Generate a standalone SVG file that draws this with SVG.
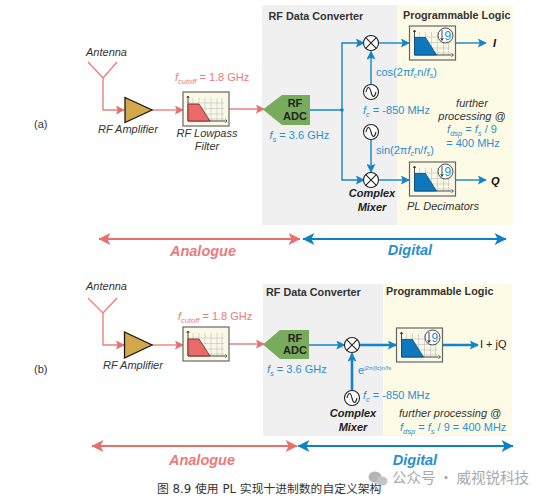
<svg xmlns="http://www.w3.org/2000/svg" width="548" height="500" viewBox="0 0 548 500">
<style>
text{font-family:"Liberation Sans",Arial,sans-serif;font-size:11px;fill:#333}
.i{font-style:italic}
.hd{font-weight:bold;font-size:10.800px;fill:#333}
.b{fill:#2a8fd0}
.r{fill:#ea7b7b}
.bi{font-weight:bold;font-style:italic;fill:#222}
.big{font-weight:bold;font-style:italic;font-size:14.5px}
.sub{font-size:7.5px}
.adc{font-weight:bold;font-size:11px;fill:#222;text-anchor:middle}
.m{text-anchor:middle}
.lr{fill:none;stroke:#ec8080;stroke-width:1.4}
.lb{fill:none;stroke:#1484c8;stroke-width:1.4}
.lbt{fill:none;stroke:#1484c8;stroke-width:2.6}
.ar{fill:none;stroke:#e86f6c;stroke-width:2.2}
.ab{fill:none;stroke:#0f80c6;stroke-width:2.2}
.amp{fill:#d3a84a;stroke:#1a1a1a;stroke-width:1.3}
.adcs{fill:#79ab5d}
.box{fill:#fbf9e6;stroke:#666;stroke-width:1.2}
.grid{stroke:#c4c4c4;stroke-width:.7}
.axis{stroke:#333;stroke-width:.9;fill:none}
.trr{fill:#e96a68;stroke:#5a2a2a;stroke-width:.8}
.trb{fill:#0c78bd;stroke:#0b4a72;stroke-width:.8}
.mix{fill:#fff;stroke:#222;stroke-width:1.1}
.xx{stroke:#222;stroke-width:1.1;fill:none}
.wm{fill:#a9a9a9;font-size:14.5px;font-family:"Noto Sans CJK SC","Liberation Sans",sans-serif}
.cap{fill:#333;font-size:11.8px;font-family:"DejaVu Sans","Noto Sans CJK SC",sans-serif}
</style>
<defs>
<marker id="hr" viewBox="0 0 10 10" refX="9" refY="5" markerWidth="9" markerHeight="9" markerUnits="userSpaceOnUse" orient="auto"><path d="M0 0L10 5L0 10L2 5Z" fill="#e86f6c"/></marker>
<marker id="hb" viewBox="0 0 10 10" refX="9" refY="5" markerWidth="9" markerHeight="9" markerUnits="userSpaceOnUse" orient="auto"><path d="M0 0L10 5L0 10L2 5Z" fill="#1484c8"/></marker>
<marker id="hR" viewBox="0 0 10 10" refX="9.5" refY="5" markerWidth="16" markerHeight="12" markerUnits="userSpaceOnUse" orient="auto-start-reverse"><path d="M0 0L10 5L0 10L2.5 5Z" fill="#e86f6c"/></marker>
<marker id="hB" viewBox="0 0 10 10" refX="9.5" refY="5" markerWidth="16" markerHeight="12" markerUnits="userSpaceOnUse" orient="auto-start-reverse"><path d="M0 0L10 5L0 10L2.5 5Z" fill="#0f80c6"/></marker>
<g id="gridbox">
<rect class="box" x="0" y="0" width="46" height="34"/>
<path class="grid" d="M5 11H41M5 16.500H41M5 22H41M5 27H41M10 6V29M16 6V29M22 6V29M28 6V29M34 6V29M39 6V29"/>
<path class="axis" d="M5 4V29H42M42 27.500L44 29L42 30.500M3.800 6L5 4L6.200 6"/>
</g>
<g id="fr"><use href="#gridbox"/><path class="trr" d="M5 12H16L27 29H5Z"/></g>
<g id="fb"><use href="#gridbox"/><path class="trb" d="M5 11.500H16L27 29H5Z"/><circle cx="36" cy="9.500" r="7.500" fill="#fff" stroke="#333" stroke-width=".9"/><path d="M32.500 4V14M31.200 12L32.500 14.500L33.800 12" fill="none" stroke="#333" stroke-width=".9"/><text x="35" y="14" style="font-size:12px;fill:#2a8fd0">9</text></g>
<g id="mx"><circle class="mix" r="7.500"/><path class="xx" d="M-5.300-5.300L5.300 5.300M-5.300 5.300L5.300-5.300"/></g>
<g id="os"><circle class="mix" r="7.500"/><path class="xx" d="M-5 0C-3.500-6-1.500-6 0 0S3.500 6 5 0"/></g>
</defs>

<g id="panels">
<rect x="262" y="5" width="135" height="220" fill="#f0f0f0"/>
<rect x="397" y="5" width="116" height="220" fill="#fdfbe6"/>
<rect x="263" y="284" width="120" height="152" fill="#f0f0f0"/>
<rect x="383" y="284" width="129" height="152" fill="#fdfbe6"/>
</g>

<g id="connectors">
<path class="lr" d="M88 62L103 78L117 62M103 78V110H124" marker-end="url(#hr)"/>
<path class="lr" d="M152 110H183" marker-end="url(#hr)"/>
<path class="lr" d="M229 109H264" marker-end="url(#hr)"/>
<path class="lb" d="M310 110H342V43H364" marker-end="url(#hb)"/>
<path class="lb" d="M342 110V180H364" marker-end="url(#hb)"/>
<circle cx="342" cy="110" r="1.800" fill="#1484c8"/>
<path class="lb" d="M371 84V51.500" marker-end="url(#hb)"/>
<path class="lb" d="M371 140V172" marker-end="url(#hb)"/>
<path class="lb" d="M379 43H409" marker-end="url(#hb)"/>
<path class="lb" d="M379 180H409" marker-end="url(#hb)"/>
<path class="lb" d="M456 43H486" marker-end="url(#hb)"/>
<path class="lb" d="M456 180H486" marker-end="url(#hb)"/>
<path class="ar" d="M99 239H300" marker-start="url(#hR)" marker-end="url(#hR)"/>
<path class="ab" d="M303 239H506" marker-start="url(#hB)" marker-end="url(#hB)"/>

<path class="lr" d="M88 298L103 313L117 298M103 313V345H124" marker-end="url(#hr)"/>
<path class="lr" d="M152 345H183" marker-end="url(#hr)"/>
<path class="lr" d="M229 344H264" marker-end="url(#hr)"/>
<path class="lb" d="M309 345H344.500" marker-end="url(#hb)"/>
<path class="lbt" d="M352 390V353.500" marker-end="url(#hb)"/>
<path class="lbt" d="M360 345H396" marker-end="url(#hb)"/>
<path class="lbt" d="M443 345H478" marker-end="url(#hb)"/>
<path class="ar" d="M92 446H297" marker-start="url(#hR)" marker-end="url(#hR)"/>
<path class="ab" d="M298 446H513" marker-start="url(#hB)" marker-end="url(#hB)"/>
</g>

<g id="a-panel-labels">
<text x="34" y="128">(a)</text>
<text class="hd" x="268.500" y="20">RF Data Converter</text>
<text class="hd" x="403" y="19">Programmable Logic</text>
</g>
<g id="a-antenna"><text class="i" x="86" y="56">Antenna</text></g>
<g id="a-amp"><path class="amp" d="M125 97.500V122.500L152 110Z"/><text class="i" x="98" y="133">RF Amplifier</text></g>
<g id="a-filter"><use href="#fr" x="183" y="92"/>
<text class="r" x="175" y="81"><tspan class="i">f</tspan><tspan class="sub i" dy="2.500">cutoff</tspan><tspan dy="-2.500"> = 1.8 GHz</tspan></text>
<text class="i m" x="207" y="137">RF Lowpass</text><text class="i m" x="207" y="150">Filter</text></g>
<g id="a-adc"><path class="adcs" d="M263 109.500L282 95H310V125H282Z"/>
<text class="adc" x="295" y="107">RF</text><text class="adc" x="295" y="120">ADC</text>
<text class="b" x="269.500" y="139"><tspan class="i">f</tspan><tspan class="sub i" dy="2.500">s</tspan><tspan dy="-2.500"> = 3.6 GHz</tspan></text></g>
<g id="a-mixer-i"><use href="#mx" x="371" y="43"/></g>
<g id="a-osc-i"><use href="#os" x="371" y="92"/>
<text class="b" x="376" y="76">cos(2π<tspan class="i">f</tspan><tspan class="sub i" dy="2">c</tspan><tspan dy="-2">n/</tspan><tspan class="i">f</tspan><tspan class="sub i" dy="2">s</tspan><tspan dy="-2">)</tspan></text></g>
<g id="a-fc"><text class="b" x="363" y="114"><tspan class="i">f</tspan><tspan class="sub i" dy="2.500">c</tspan><tspan dy="-2.500"> = -850 MHz</tspan></text></g>
<g id="a-osc-q"><use href="#os" x="371" y="132"/>
<text class="b" x="376" y="154">sin(2π<tspan class="i">f</tspan><tspan class="sub i" dy="2">c</tspan><tspan dy="-2">n/</tspan><tspan class="i">f</tspan><tspan class="sub i" dy="2">s</tspan><tspan dy="-2">)</tspan></text></g>
<g id="a-mixer-q"><use href="#mx" x="371" y="180"/>
<text class="bi m" x="372" y="197">Complex</text><text class="bi m" x="372" y="211">Mixer</text></g>
<g id="a-dec-i"><use href="#fb" x="409.500" y="26"/><text x="493" y="47" style="font-weight:bold;font-style:italic;fill:#111">I</text></g>
<g id="a-dec-q"><use href="#fb" x="409.500" y="162"/><text x="491" y="184.500" style="font-weight:bold;font-style:italic;fill:#111">Q</text>
<text class="i" x="407" y="210">PL Decimators</text></g>
<g id="a-processing">
<text class="i m" x="472" y="107">further</text><text class="i m" x="472" y="120">processing @</text>
<text class="b m" x="472" y="133"><tspan class="i">f</tspan><tspan class="sub i" dy="2.500">dsp</tspan><tspan dy="-2.500"> = </tspan><tspan class="i">f</tspan><tspan class="sub i" dy="2.500">s</tspan><tspan dy="-2.500"> / 9</tspan></text>
<text class="b m" x="473" y="147">= 400 MHz</text></g>
<g id="a-domains"><text class="big r m" x="203" y="256">Analogue</text><text class="big b m" x="410" y="255">Digital</text></g>

<g id="b-panel-labels">
<text x="34" y="373">(b)</text>
<text class="hd" x="266" y="296">RF Data Converter</text>
<text class="hd" x="386" y="295">Programmable Logic</text>
</g>
<g id="b-antenna"><text class="i" x="86" y="290">Antenna</text></g>
<g id="b-amp"><path class="amp" d="M124.500 332V358L152 345Z"/><text class="i" x="103" y="369">RF Amplifier</text></g>
<g id="b-filter"><use href="#fr" x="183" y="327"/>
<text class="r" x="178" y="320"><tspan class="i">f</tspan><tspan class="sub i" dy="2.500">cutoff</tspan><tspan dy="-2.500"> = 1.8 GHz</tspan></text></g>
<g id="b-adc"><path class="adcs" d="M263 344.500L280 330H309V359H280Z"/>
<text class="adc" x="295" y="342">RF</text><text class="adc" x="295" y="354">ADC</text>
<text class="b" x="267" y="373"><tspan class="i">f</tspan><tspan class="sub i" dy="2.500">s</tspan><tspan dy="-2.500"> = 3.6 GHz</tspan></text></g>
<g id="b-mixer"><use href="#mx" x="352" y="345"/>
<text class="bi m" x="353" y="417">Complex</text><text class="bi m" x="353" y="431">Mixer</text></g>
<g id="b-exp"><text class="b" x="358" y="374">e<tspan style="font-size:6px" dy="-4.500">j2π(fc)n/fs</tspan></text></g>
<g id="b-osc"><use href="#os" x="352" y="398"/>
<text class="b" x="363" y="399"><tspan class="i">f</tspan><tspan class="sub i" dy="2.500">c</tspan><tspan dy="-2.500"> = -850 MHz</tspan></text></g>
<g id="b-dec"><use href="#fb" x="396.500" y="328"/><text x="480" y="348" style="fill:#222">I + jQ</text></g>
<g id="b-processing"><text class="i" x="399" y="417">further processing @</text>
<text class="b" x="400" y="431"><tspan class="i">f</tspan><tspan class="sub i" dy="2.500">dsp</tspan><tspan dy="-2.500"> = </tspan><tspan class="i">f</tspan><tspan class="sub i" dy="2.500">s</tspan><tspan dy="-2.500"> / 9 = 400 MHz</tspan></text></g>
<g id="b-domains"><text class="big r m" x="202" y="465">Analogue</text><text class="big b m" x="415" y="465">Digital</text></g>

<g id="watermark">
<ellipse cx="375" cy="477" rx="6.500" ry="5.500" fill="#b5b5b5"/><ellipse cx="382" cy="481" rx="5.500" ry="4.500" fill="#c4c4c4"/>
<text class="wm" x="392" y="483">公众号 · 威视锐科技</text></g>
<g id="caption"><text class="cap" x="157" y="493">图 8.9 使用 PL 实现十进制数的自定义架构</text></g>
</svg>
